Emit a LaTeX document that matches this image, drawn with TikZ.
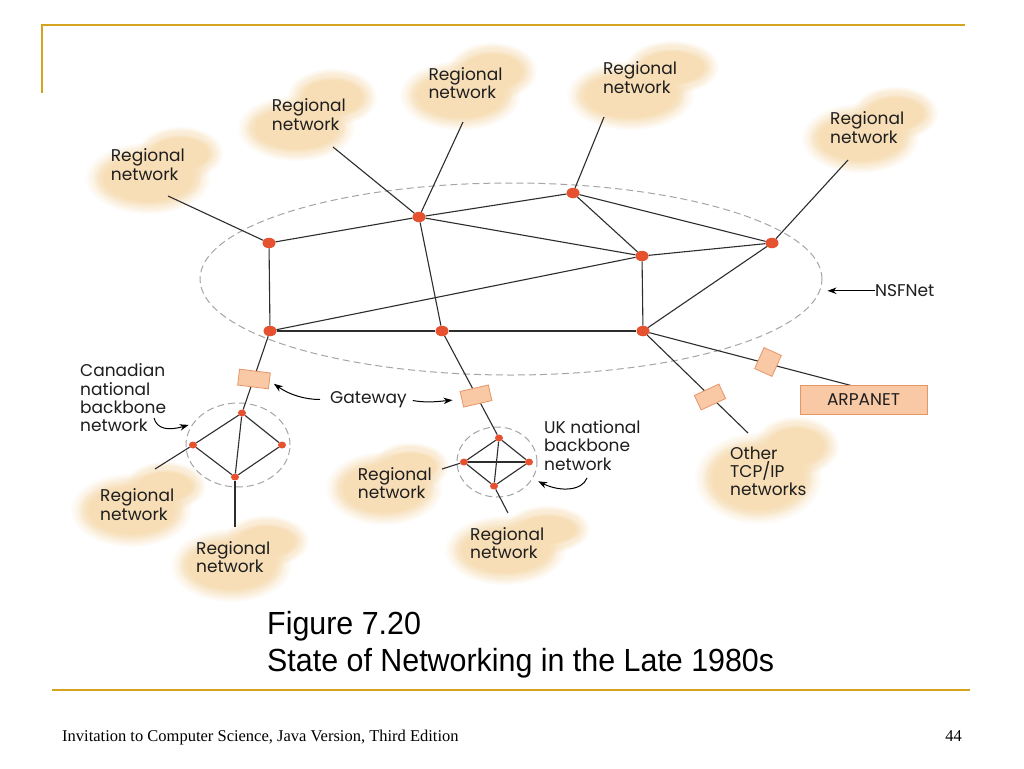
\documentclass[tikz,border=0pt]{standalone}
\usepackage{fontspec}
\usepackage{graphicx}
\setmainfont{Liberation Serif}
\newfontfamily\futfont{Poppins}
\newfontfamily\capfont{Liberation Sans}
\usetikzlibrary{arrows.meta,fadings,shapes.geometric}
\definecolor{slidegold}{RGB}{212,164,30}
\definecolor{cloudc}{RGB}{247,222,182}
\definecolor{dotc}{RGB}{230,82,48}
\definecolor{gatefill}{RGB}{249,201,165}
\definecolor{gatedraw}{RGB}{228,150,105}
\definecolor{linec}{RGB}{45,45,45}
\definecolor{dashc}{RGB}{165,165,165}
\definecolor{txtc}{RGB}{30,30,30}
\newcommand{\puff}[4]{%
  \fill[cloudc, opacity=0.55, path fading=circle with fuzzy edge 20 percent] (#1,#2) ellipse [x radius=#3+9, y radius=#4+8];
  \fill[cloudc, path fading=circle with fuzzy edge 20 percent] (#1,#2) ellipse [x radius=#3, y radius=#4];}
\begin{document}
\begin{tikzpicture}[x=1pt,y=-1pt,
  bigdot/.style={ellipse, fill=dotc, inner sep=0pt, minimum width=13pt, minimum height=10.5pt},
  smalldot/.style={ellipse, fill=dotc, inner sep=0pt, minimum width=8pt, minimum height=7pt},
  link/.style={draw=linec, line width=1.1pt},
  ring/.style={ellipse, draw=dashc, dash pattern=on 7pt off 4pt, line width=1pt, inner sep=0pt},
  gate/.style={rectangle, draw=gatedraw, fill=gatefill, line width=0.8pt, inner sep=0pt, minimum width=30pt, minimum height=16pt},
  lbl/.style={font=\futfont\fontsize{17}{18.3}\selectfont, text=txtc, align=left, anchor=base west, inner sep=0pt},
  arr/.style={draw=black, -{Stealth[length=9pt,width=6.5pt]}, line width=1pt},
  goldline/.style={draw=slidegold, line width=2pt}]
\useasboundingbox (0,0) rectangle (1024,768);
\fill[white] (0,0) rectangle (1024,768);

% clouds
\puff{148}{178}{54}{28}\puff{180}{153}{34}{19}
\puff{296}{128}{50}{25}\puff{332}{97}{36}{21}
\puff{460}{95}{52}{27}\puff{492}{71}{36}{21}
\puff{630}{95}{55}{27}\puff{672}{67}{38}{19}
\puff{860}{138}{50}{27}\puff{895}{113}{34}{19}
\puff{131}{510}{52}{29}\puff{165}{486}{32}{17}
\puff{231}{565}{52}{29}\puff{266}{541}{34}{18}
\puff{384}{488}{50}{29}\puff{410}{466}{30}{16}
\puff{505}{550}{52}{27}\puff{547}{529}{34}{16}
\puff{758}{478}{55}{38}\puff{796}{446}{34}{22}

% dashed rings
\node[ring, minimum width=622pt, minimum height=192pt] (nsfnet) at (511,279) {};
\node[ring, minimum width=104pt, minimum height=84pt] (cring) at (238,445) {};
\node[ring, minimum width=80pt, minimum height=70pt] (uring) at (497,462) {};

% NSFNet nodes
\node[bigdot] (A) at (269,243) {};
\node[bigdot] (B) at (419,217) {};
\node[bigdot] (C) at (573,193) {};
\node[bigdot] (D) at (642,256) {};
\node[bigdot] (E) at (772,243) {};
\node[bigdot] (F) at (270,331) {};
\node[bigdot] (G) at (442,331) {};
\node[bigdot] (H) at (643,331) {};
% Canadian backbone
\node[smalldot] (ct) at (242,413) {};
\node[smalldot] (cl) at (193,445) {};
\node[smalldot] (cr) at (282,445) {};
\node[smalldot] (cb) at (235,477) {};
% UK backbone
\node[smalldot] (ut) at (499,438) {};
\node[smalldot] (ul) at (464,462) {};
\node[smalldot] (ur) at (529,462) {};
\node[smalldot] (ub) at (494,486) {};

% free ends
\coordinate (r1e) at (168,196);
\coordinate (r2e) at (333,147);
\coordinate (r3e) at (463,122);
\coordinate (r4e) at (604,117);
\coordinate (r5e) at (848,160);
\coordinate (cle) at (155,469);
\coordinate (cbe) at (235,527);
\coordinate (ule) at (442,469);
\coordinate (ube) at (508,513);
\coordinate (ote) at (748,433);
\coordinate (arpe) at (853,386);
\coordinate (cana) at (154,418);
\coordinate (uka) at (587,478);

% links
\draw[link] (r1e) -- (A);
\draw[link] (r2e) -- (B);
\draw[link] (r3e) -- (B);
\draw[link] (r4e) -- (C);
\draw[link] (r5e) -- (E);
\draw[link] (A) -- (B);
\draw[link] (B) -- (C);
\draw[link] (B) -- (D);
\draw[link] (C) -- (D);
\draw[link] (C) -- (E);
\draw[link] (D) -- (E);
\draw[link] (A) -- (F);
\draw[link] (B) -- (G);
\draw[link] (F) -- (G);
\draw[link] (G) -- (H);
\draw[link] (F) -- (D);
\draw[link] (D) -- (H);
\draw[link] (H) -- (E);
\draw[link] (F) -- (ct);
\draw[link] (G) -- (ut);
\draw[link] (H) -- (ote);
\draw[link] (H) -- (arpe);
\draw[link] (ct) -- (cl);
\draw[link] (ct) -- (cr);
\draw[link] (cl) -- (cb);
\draw[link] (cr) -- (cb);
\draw[link] (ct) -- (cb);
\draw[link] (cl) -- (cle);
\draw[link] (cb) -- (cbe);
\draw[link] (ut) -- (ul);
\draw[link] (ut) -- (ur);
\draw[link] (ul) -- (ur);
\draw[link] (ul) -- (ub);
\draw[link] (ur) -- (ub);
\draw[link] (ut) -- (ub);
\draw[link] (ul) -- (ule);
\draw[link] (ub) -- (ube);

% gateways
\node[gate, rotate=-7, minimum width=31pt] (g1) at (254,379) {};
\node[gate, rotate=13, minimum width=29pt] (g2) at (476,396) {};
\node[gate, rotate=25, minimum width=27pt] (g3) at (710,397) {};
\node[gate, rotate=66, minimum width=23pt, minimum height=19pt] (g4) at (768,362) {};
\node[rectangle, draw=gatedraw, fill=gatefill, line width=1pt, minimum width=127pt, minimum height=29pt, inner sep=0pt,
      font=\futfont\fontsize{17}{18.3}\selectfont, text=txtc] (arpa) at (863.5,399.5) {ARPANET};

% labels
\node[lbl] (t1) at (110.7,180) {Regional\\network};
\node[lbl] (t2) at (271.7,130) {Regional\\network};
\node[lbl] (t3) at (428.3,98.3) {Regional\\network};
\node[lbl] (t4) at (602.8,93.1) {Regional\\network};
\node[lbl] (t5) at (830,143.1) {Regional\\network};
\node[lbl] (t6) at (100,520) {Regional\\network};
\node[lbl] (t7) at (196,572.6) {Regional\\network};
\node[lbl] (t8) at (357.7,498.3) {Regional\\network};
\node[lbl] (t9) at (470,558.3) {Regional\\network};
\node[lbl] (t10) at (730,495.6) {Other\\TCP/IP\\networks};
\node[lbl] (can) at (80,431.6) {Canadian\\national\\backbone\\network};
\node[lbl] (uk) at (544,470) {UK national\\backbone\\network};
\node[lbl] (gw) at (330,403.3) {Gateway};
\node[lbl] (nsf) at (875,296.7) {NSFNet};

% arrows
\draw[arr, shorten >=5pt] (nsf.west) -- (nsf.west -| nsfnet.east);
\draw[arr, shorten <=10pt, shorten >=5pt] (gw.west) to[out=180, in=-35] (g1.east);
\draw[arr, shorten <=6pt, shorten >=9pt] (gw.east) to[out=-10, in=185] (g2.west);
\draw[arr, shorten >=4pt] (cana) .. controls (157,429) and (168,431) .. (cring.155);
\draw[arr, shorten >=6pt] (uka) .. controls (582,491) and (560,492) .. (uring.-25);

% slide decoration
\draw[goldline] (42,25) -- (965,25);
\draw[goldline] (42,24) -- (42,93);
\draw[goldline] (52,690) -- (970,690);

% caption
\node[anchor=base west, inner sep=0pt, font=\capfont\fontsize{32}{32}\selectfont] (cap1) at (267,634) {\scalebox{0.95}[1]{Figure 7.20}};
\node[anchor=base west, inner sep=0pt, font=\capfont\fontsize{32}{32}\selectfont] (cap2) at (267,671) {\scalebox{0.95}[1]{State of Networking in the Late 1980s}};

% footer
\node[anchor=base west, inner sep=0pt, font=\fontsize{16.5}{16.5}\selectfont] (foot) at (62,741) {Invitation to Computer Science, Java Version, Third Edition};
\node[anchor=base east, inner sep=0pt, font=\fontsize{16.5}{16.5}\selectfont] (pg) at (962,741) {44};
\end{tikzpicture}
\end{document}
